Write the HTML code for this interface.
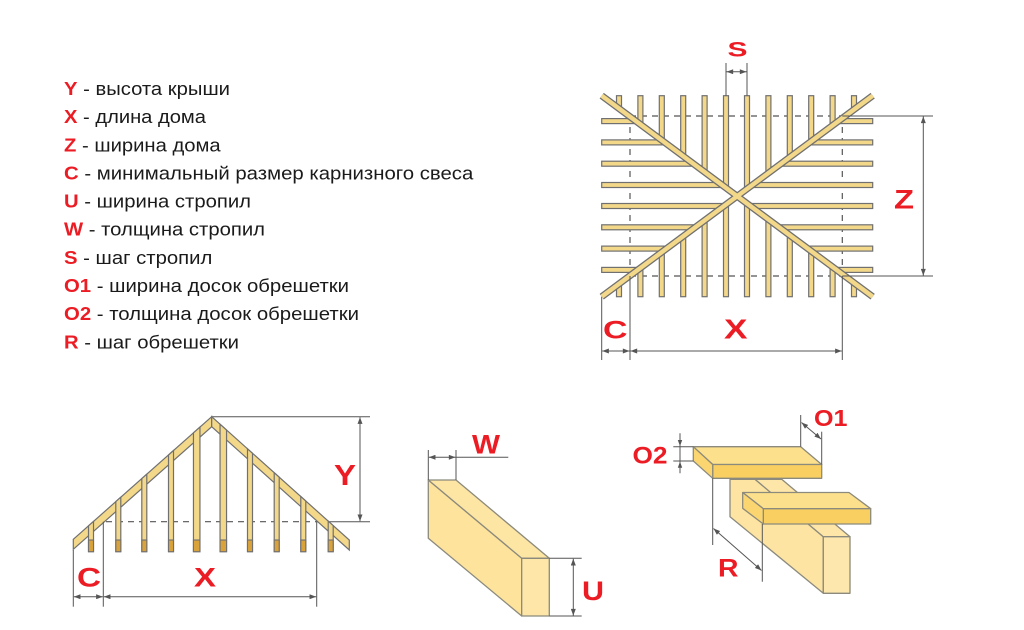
<!DOCTYPE html>
<html><head><meta charset="utf-8"><style>
html,body{margin:0;padding:0;background:#fff;}
svg{display:block;}
.lg{font-family:"Liberation Sans",Arial,sans-serif;font-size:18.5px;fill:#1a1a1a;}
.r{fill:#ec1c24;font-weight:bold;}
.lb{font-family:"Liberation Sans",Arial,sans-serif;font-weight:bold;fill:#ec1c24;}
.d{stroke:#555;stroke-width:1;fill:none;}
.da{stroke:#555;stroke-width:1;fill:none;marker-start:url(#ah);marker-end:url(#ah);}
.dash{stroke:#555;stroke-width:1.2;fill:none;stroke-dasharray:6 5;}
.raf{fill:#f3d88a;stroke:#707070;stroke-width:1.2;}
.wood{stroke:#8c8a7c;stroke-width:1.3;stroke-linejoin:round;}
</style></head><body>
<svg width="1024" height="630" viewBox="0 0 1024 630" xmlns="http://www.w3.org/2000/svg">
<defs>
<marker id="ah" viewBox="0 0 8 6" refX="8" refY="3" markerWidth="7" markerHeight="5" markerUnits="userSpaceOnUse" orient="auto-start-reverse">
<path d="M0,0 L8,3 L0,6 z" fill="#555"/>
</marker>
</defs>

<!-- Legend -->
<text class="lg" x="64" y="95" textLength="166" lengthAdjust="spacingAndGlyphs"><tspan class="r">Y</tspan> - высота крыши</text>
<text class="lg" x="64" y="123.1" textLength="142" lengthAdjust="spacingAndGlyphs"><tspan class="r">X</tspan> - длина дома</text>
<text class="lg" x="64" y="151.3" textLength="156.7" lengthAdjust="spacingAndGlyphs"><tspan class="r">Z</tspan> - ширина дома</text>
<text class="lg" x="64" y="179.4" textLength="409.3" lengthAdjust="spacingAndGlyphs"><tspan class="r">C</tspan> - минимальный размер карнизного свеса</text>
<text class="lg" x="64" y="207.6" textLength="187" lengthAdjust="spacingAndGlyphs"><tspan class="r">U</tspan> - ширина стропил</text>
<text class="lg" x="64" y="235.7" textLength="201" lengthAdjust="spacingAndGlyphs"><tspan class="r">W</tspan> - толщина стропил</text>
<text class="lg" x="64" y="263.8" textLength="148.3" lengthAdjust="spacingAndGlyphs"><tspan class="r">S</tspan> - шаг стропил</text>
<text class="lg" x="64" y="292" textLength="285" lengthAdjust="spacingAndGlyphs"><tspan class="r">O1</tspan> - ширина досок обрешетки</text>
<text class="lg" x="64" y="320.1" textLength="295" lengthAdjust="spacingAndGlyphs"><tspan class="r">O2</tspan> - толщина досок обрешетки</text>
<text class="lg" x="64" y="348.3" textLength="175" lengthAdjust="spacingAndGlyphs"><tspan class="r">R</tspan> - шаг обрешетки</text>

<!-- ===== Plan view ===== -->
<!-- dashed rectangle -->
<line class="dash" x1="630" y1="116" x2="842.3" y2="116"/>
<line class="dash" x1="630" y1="276" x2="842.3" y2="276"/>
<line class="dash" x1="630" y1="116" x2="630" y2="276"/>
<line class="dash" x1="842.3" y1="116" x2="842.3" y2="276"/>

<!-- vertical rafters top -->
<rect class="raf" x="616.5" y="95.7" width="5" height="12.8"/>
<rect class="raf" x="637.9" y="95.7" width="5" height="28.7"/>
<rect class="raf" x="659.3" y="95.7" width="5" height="44.6"/>
<rect class="raf" x="680.7" y="95.7" width="5" height="60.5"/>
<rect class="raf" x="702.1" y="95.7" width="5" height="76.3"/>
<rect class="raf" x="723.5" y="95.7" width="5" height="92.2"/>
<rect class="raf" x="744.5" y="95.7" width="5" height="93.2"/>
<rect class="raf" x="765.9" y="95.7" width="5" height="77.4"/>
<rect class="raf" x="787.3" y="95.7" width="5" height="61.5"/>
<rect class="raf" x="808.7" y="95.7" width="5" height="45.6"/>
<rect class="raf" x="830.1" y="95.7" width="5" height="29.7"/>
<rect class="raf" x="851.5" y="95.7" width="5" height="13.9"/>
<!-- vertical rafters bottom -->
<rect class="raf" x="616.5" y="283.9" width="5" height="12.8"/>
<rect class="raf" x="637.9" y="268" width="5" height="28.7"/>
<rect class="raf" x="659.3" y="252.1" width="5" height="44.6"/>
<rect class="raf" x="680.7" y="236.3" width="5" height="60.4"/>
<rect class="raf" x="702.1" y="220.4" width="5" height="76.3"/>
<rect class="raf" x="723.5" y="204.5" width="5" height="92.2"/>
<rect class="raf" x="744.5" y="203.5" width="5" height="93.2"/>
<rect class="raf" x="765.9" y="219.3" width="5" height="77.4"/>
<rect class="raf" x="787.3" y="235.2" width="5" height="61.5"/>
<rect class="raf" x="808.7" y="251.1" width="5" height="45.6"/>
<rect class="raf" x="830.1" y="267" width="5" height="29.7"/>
<rect class="raf" x="851.5" y="282.8" width="5" height="13.9"/>
<!-- horizontal rafters left -->
<rect class="raf" x="601.7" y="118.6" width="34.2" height="5"/>
<rect class="raf" x="601.7" y="139.9" width="63" height="5"/>
<rect class="raf" x="601.7" y="161.2" width="91.7" height="5"/>
<rect class="raf" x="601.7" y="182.5" width="120.4" height="5"/>
<rect class="raf" x="601.7" y="203.5" width="122.3" height="5"/>
<rect class="raf" x="601.7" y="224.8" width="93.6" height="5"/>
<rect class="raf" x="601.7" y="246.1" width="64.9" height="5"/>
<rect class="raf" x="601.7" y="267.4" width="36.1" height="5"/>
<!-- horizontal rafters right -->
<rect class="raf" x="838.4" y="118.6" width="34.3" height="5"/>
<rect class="raf" x="809.7" y="139.9" width="63" height="5"/>
<rect class="raf" x="781" y="161.2" width="91.7" height="5"/>
<rect class="raf" x="752.3" y="182.5" width="120.4" height="5"/>
<rect class="raf" x="750.4" y="203.5" width="122.3" height="5"/>
<rect class="raf" x="779.1" y="224.8" width="93.6" height="5"/>
<rect class="raf" x="807.9" y="246.1" width="64.8" height="5"/>
<rect class="raf" x="836.6" y="267.4" width="36.1" height="5"/>
<!-- diagonals -->
<line x1="601.7" y1="95.7" x2="872.7" y2="296.7" stroke="#707070" stroke-width="7"/>
<line x1="872.7" y1="95.7" x2="601.7" y2="296.7" stroke="#707070" stroke-width="7"/>
<line x1="601.7" y1="95.7" x2="872.7" y2="296.7" stroke="#f3d88a" stroke-width="4.4"/>
<line x1="872.7" y1="95.7" x2="601.7" y2="296.7" stroke="#f3d88a" stroke-width="4.4"/>

<!-- S dim -->
<line class="d" x1="726" y1="63" x2="726" y2="95.7"/>
<line class="d" x1="747" y1="63" x2="747" y2="95.7"/>
<line class="da" x1="726.5" y1="71.7" x2="746.5" y2="71.7"/>
<text class="lb" x="727.5" y="56.7" font-size="21" textLength="20" lengthAdjust="spacingAndGlyphs">S</text>

<!-- Z dim -->
<line class="d" x1="842.3" y1="116" x2="933" y2="116"/>
<line class="d" x1="842.3" y1="276" x2="933" y2="276"/>
<line class="da" x1="923.3" y1="116.5" x2="923.3" y2="275.5"/>
<text class="lb" x="894" y="208.3" font-size="26.5" textLength="20" lengthAdjust="spacingAndGlyphs">Z</text>

<!-- C / X dims plan -->
<line class="d" x1="601.7" y1="296.7" x2="601.7" y2="360"/>
<line class="d" x1="630" y1="276" x2="630" y2="360"/>
<line class="d" x1="842.3" y1="276" x2="842.3" y2="360"/>
<line class="da" x1="602.2" y1="351" x2="629.5" y2="351"/>
<line class="da" x1="630.5" y1="351" x2="841.8" y2="351"/>
<text class="lb" x="603" y="338.3" font-size="25" textLength="24.5" lengthAdjust="spacingAndGlyphs">C</text>
<text class="lb" x="724" y="338.3" font-size="28" textLength="23.5" lengthAdjust="spacingAndGlyphs">X</text>

<!-- ===== Gable ===== -->
<line class="d" x1="211.7" y1="416.7" x2="370" y2="416.7"/>
<line class="da" x1="360" y1="417.2" x2="360" y2="521.2"/>
<line class="dash" x1="106" y1="521.7" x2="316.7" y2="521.7"/>
<line class="d" x1="316.7" y1="521.7" x2="370" y2="521.7"/>

<polygon class="raf" points="73.3,539.3 211.7,416.7 211.7,426.7 73.3,549.3"/>
<polygon class="raf" points="211.7,416.7 349.3,540 349.3,550 211.7,426.7"/>

<g class="raf">
<polygon points="88.5,525.8 93.5,521.4 93.5,551.7 88.5,551.7"/>
<polygon points="115.8,501.6 120.8,497.2 120.8,551.7 115.8,551.7"/>
<polygon points="141.8,478.6 146.8,474.2 146.8,551.7 141.8,551.7"/>
<polygon points="168.5,455 173.5,450.5 173.5,551.7 168.5,551.7"/>
<polygon points="193.45,432.85 199.95,427.1 199.95,551.7 193.45,551.7"/>
<polygon points="220.05,424.2 226.55,430 226.55,551.7 220.05,551.7"/>
<polygon points="247.5,448.8 252.5,453.3 252.5,551.7 247.5,551.7"/>
<polygon points="274.2,472.7 279.2,477.2 279.2,551.7 274.2,551.7"/>
<polygon points="300.8,496.5 305.8,501 305.8,551.7 300.8,551.7"/>
<polygon points="328.2,521.1 333.2,525.6 333.2,551.7 328.2,551.7"/>
</g>
<g fill="#d9a23a" stroke="#707070" stroke-width="1.1">
<rect x="88.5" y="540" width="5" height="11.7"/>
<rect x="115.8" y="540" width="5" height="11.7"/>
<rect x="141.8" y="540" width="5" height="11.7"/>
<rect x="168.5" y="540" width="5" height="11.7"/>
<rect x="193.45" y="540" width="6.5" height="11.7"/>
<rect x="220.05" y="540" width="6.5" height="11.7"/>
<rect x="247.5" y="540" width="5" height="11.7"/>
<rect x="274.2" y="540" width="5" height="11.7"/>
<rect x="300.8" y="540" width="5" height="11.7"/>
<rect x="328.2" y="540" width="5" height="11.7"/>
</g>

<line class="d" x1="73.3" y1="550" x2="73.3" y2="606.7"/>
<line class="d" x1="103.3" y1="521.7" x2="103.3" y2="606.7"/>
<line class="d" x1="316.7" y1="521.7" x2="316.7" y2="606.7"/>
<line class="da" x1="73.8" y1="596.7" x2="102.8" y2="596.7"/>
<line class="da" x1="103.8" y1="596.7" x2="316.2" y2="596.7"/>
<text class="lb" x="334" y="485" font-size="29" textLength="22" lengthAdjust="spacingAndGlyphs">Y</text>
<text class="lb" x="77" y="586.7" font-size="27" textLength="24" lengthAdjust="spacingAndGlyphs">C</text>
<text class="lb" x="194" y="586.7" font-size="27" textLength="22" lengthAdjust="spacingAndGlyphs">X</text>

<!-- ===== Beam (W/U) ===== -->
<polygon class="wood" fill="#fde39c" points="428.3,480 521.7,558.3 521.7,616 428.3,538.3"/>
<polygon class="wood" fill="#fde5a4" points="428.3,480 456,480 549.3,558.3 521.7,558.3"/>
<polygon class="wood" fill="#fde6a8" points="521.7,558.3 549.3,558.3 549.3,616 521.7,616"/>
<line class="d" x1="428.3" y1="450" x2="428.3" y2="480"/>
<line class="d" x1="456" y1="450" x2="456" y2="480"/>
<line class="da" x1="428.8" y1="457.3" x2="455.5" y2="457.3"/>
<line class="d" x1="456" y1="457.3" x2="508.3" y2="457.3"/>
<text class="lb" x="472" y="453.3" font-size="27" textLength="28" lengthAdjust="spacingAndGlyphs">W</text>
<line class="d" x1="549.3" y1="558.3" x2="581.7" y2="558.3"/>
<line class="d" x1="549.3" y1="616" x2="581.7" y2="616"/>
<line class="da" x1="573.3" y1="558.8" x2="573.3" y2="615.5"/>
<text class="lb" x="582" y="600" font-size="27" textLength="22" lengthAdjust="spacingAndGlyphs">U</text>

<!-- ===== Lathing ===== -->
<!-- rafter -->
<polygon class="wood" fill="#fde4a2" points="730,479.3 755,479.3 823.3,536.7 823.3,593.3 730,516.7"/>
<polygon class="wood" fill="#fde6a8" points="755,479.3 781.7,479.3 850,536.7 823.3,536.7"/>
<polygon class="wood" fill="#fde7ac" points="823.3,536.7 850,536.7 850,593.3 823.3,593.3"/>
<!-- board 1 -->
<polygon class="wood" fill="#fde08c" points="693.3,446.7 800.7,446.7 821.7,464.5 712.7,464.5"/>
<polygon class="wood" fill="#f9cf62" points="712.7,464.5 821.7,464.5 821.7,478.3 712.7,478.3"/>
<polygon class="wood" fill="#fbd670" points="693.3,446.7 712.7,464.5 712.7,478.3 693.3,461"/>
<!-- board 2 -->
<polygon class="wood" fill="#fde08c" points="742.7,492.5 849,492.5 870.7,508.7 763.3,508.7"/>
<polygon class="wood" fill="#f9cf62" points="763.3,508.7 870.7,508.7 870.7,524 763.3,524"/>
<polygon class="wood" fill="#fbd670" points="742.7,492.5 763.3,508.7 763.3,524 742.7,508.3"/>

<!-- O2 -->
<line class="d" x1="673.3" y1="446.7" x2="693.3" y2="446.7"/>
<line class="d" x1="673.3" y1="461" x2="693.3" y2="461"/>
<line class="d" x1="680" y1="433.3" x2="680" y2="473.3"/>
<path d="M680,446.2 L677.8,440 L682.2,440 z M680,461.5 L677.8,467.7 L682.2,467.7 z" fill="#555"/>
<text class="lb" x="632.5" y="463.3" font-size="24" textLength="35" lengthAdjust="spacingAndGlyphs">O2</text>
<!-- O1 -->
<line class="d" x1="800.7" y1="415" x2="800.7" y2="446.7"/>
<line class="d" x1="821.7" y1="431.7" x2="821.7" y2="464.5"/>
<line class="da" x1="801.5" y1="422.5" x2="821" y2="439"/>
<text class="lb" x="814" y="426" font-size="23.5" textLength="33.5" lengthAdjust="spacingAndGlyphs">O1</text>
<!-- R -->
<line class="d" x1="712.7" y1="478.3" x2="712.7" y2="545"/>
<line class="d" x1="762.3" y1="524" x2="762.3" y2="581.7"/>
<line class="da" x1="713.5" y1="528.5" x2="761.5" y2="570.5"/>
<text class="lb" x="718" y="576.7" font-size="25" textLength="20.5" lengthAdjust="spacingAndGlyphs">R</text>
</svg>
</body></html>
